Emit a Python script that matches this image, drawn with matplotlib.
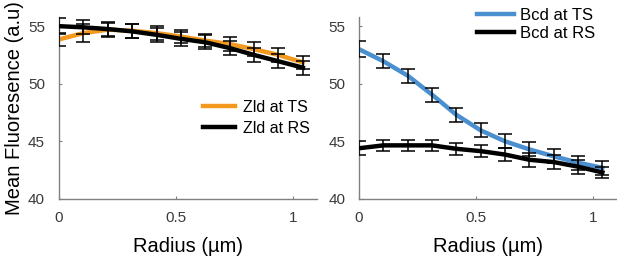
import numpy as np
import matplotlib
matplotlib.use('Agg')
import matplotlib.pyplot as plt

plt.rcParams['font.family'] = ['Liberation Sans', 'DejaVu Sans']

radius = [0, 0.104, 0.208, 0.312, 0.416, 0.52, 0.624, 0.728, 0.832, 0.936, 1.04]

# Zld panel
zld_ts = [53.85, 54.4, 54.7, 54.6, 54.4, 54.1, 53.75, 53.45, 53.0, 52.5, 51.85]
zld_ts_err = [0.6, 0.8, 0.6, 0.6, 0.6, 0.6, 0.6, 0.6, 0.6, 0.6, 0.6]
zld_rs = [55.0, 54.9, 54.75, 54.55, 54.25, 53.9, 53.6, 53.1, 52.5, 51.95, 51.4]
zld_rs_err = [0.7, 0.6, 0.6, 0.6, 0.6, 0.6, 0.6, 0.6, 0.6, 0.6, 0.6]

# Bcd panel
bcd_ts = [53.0, 51.95, 50.7, 49.05, 47.3, 45.95, 45.0, 44.3, 43.7, 43.15, 42.7]
bcd_ts_err = [0.7, 0.6, 0.6, 0.6, 0.6, 0.6, 0.6, 0.6, 0.6, 0.6, 0.6]
bcd_rs = [44.4, 44.65, 44.65, 44.65, 44.35, 44.15, 43.85, 43.4, 43.2, 42.8, 42.3]
bcd_rs_err = [0.6, 0.5, 0.5, 0.5, 0.5, 0.5, 0.6, 0.6, 0.6, 0.6, 0.5]

yticks = [40, 45, 50, 55]
xticks = [0, 0.5, 1]
xtick_labels = ['0', '0.5', '1']

fig = plt.figure(figsize=(6.17, 2.57), dpi=100)
ax1 = fig.add_axes([0.0956, 0.226, 0.418, 0.708])
ax2 = fig.add_axes([0.582, 0.226, 0.417, 0.708])

def draw(ax, ts, ts_err, rs, rs_err, ts_color, labels):
    ax.plot(radius, ts, color=ts_color, lw=3.2, label=labels[0], zorder=2)
    ax.plot(radius, rs, color='black', lw=3.2, label=labels[1], zorder=3)
    ax.errorbar(radius, ts, yerr=ts_err, fmt='none', ecolor='black',
                elinewidth=1.1, capsize=5, capthick=1.1, zorder=4)
    ax.errorbar(radius, rs, yerr=rs_err, fmt='none', ecolor='black',
                elinewidth=1.1, capsize=5, capthick=1.1, zorder=4)
    ax.set_xlim(0, 1.1)
    ax.set_ylim(40, 55.8)
    ax.set_yticks(yticks)
    ax.set_xticks(xticks)
    ax.set_xticklabels(xtick_labels)
    for s in ['top', 'right']:
        ax.spines[s].set_visible(False)
    for s in ['left', 'bottom']:
        ax.spines[s].set_color('#808080')
        ax.spines[s].set_linewidth(1.0)
    ax.tick_params(direction='in', length=2, color='#808080', labelsize=11,
                   labelcolor='#3a3a3a')
    ax.tick_params(axis='y', pad=10)
    ax.tick_params(axis='x', pad=9)
    ax.set_xlabel('Radius (µm)', fontsize=14.5, labelpad=8)

draw(ax1, zld_ts, zld_ts_err, zld_rs, zld_rs_err, '#f39a1e', ['Zld at TS', 'Zld at RS'])
draw(ax2, bcd_ts, bcd_ts_err, bcd_rs, bcd_rs_err, '#4a90d0', ['Bcd at TS', 'Bcd at RS'])

ax1.set_ylabel('Mean Fluoresence (a.u)', fontsize=14.5, labelpad=3)

ax1.legend(loc='center left', bbox_to_anchor=(0.558, 0.446), frameon=False,
           fontsize=11.5, handlelength=2.0, handletextpad=0.5, labelspacing=0.35,
           borderpad=0, borderaxespad=0)
ax2.legend(loc='center left', bbox_to_anchor=(0.459, 0.959), frameon=False,
           fontsize=12, handlelength=2.2, handletextpad=0.35, labelspacing=0.15,
           borderpad=0, borderaxespad=0)

fig.savefig('out.png', dpi=100)
